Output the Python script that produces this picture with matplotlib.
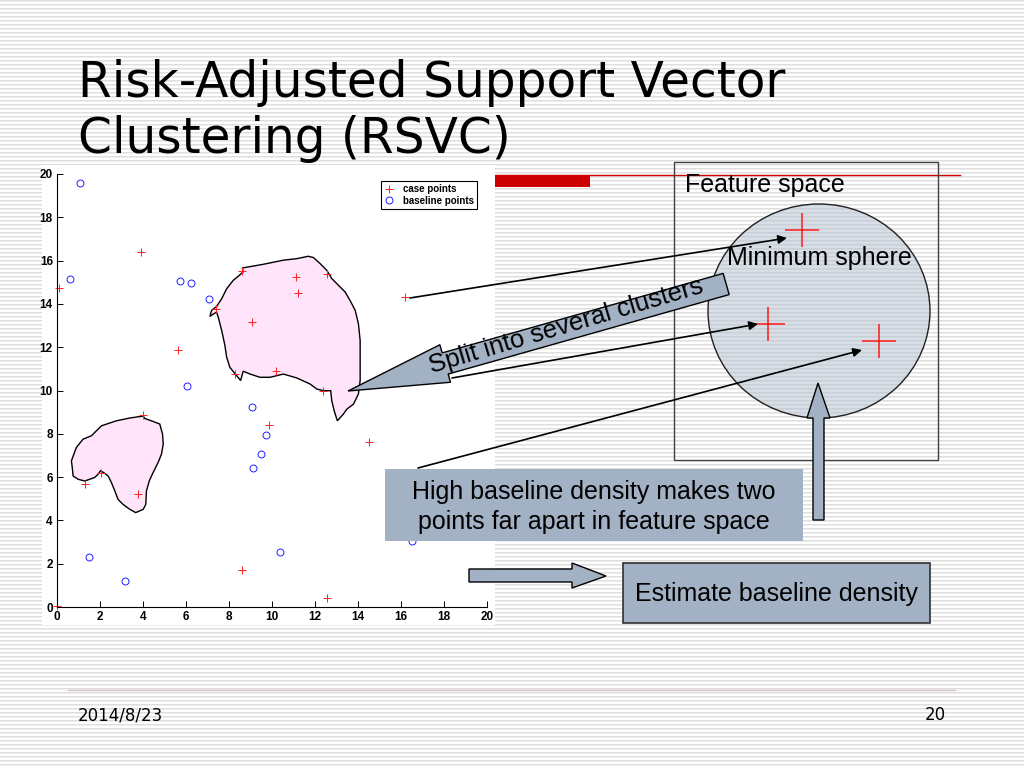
import numpy as np
import matplotlib.pyplot as plt
from matplotlib.patches import Polygon, Rectangle, Ellipse

# -------------------------
# Inset scatter data (data units, 0..20)
# -------------------------
case_x = [0.1, 3.9, 5.65, 8.6, 7.4, 9.05, 11.13, 11.23, 12.55, 16.2, 8.3,
          10.2, 12.35, 9.85, 14.5, 4.0, 1.3, 2.05, 3.77, 8.6, 12.55, 0.0]
case_y = [14.75, 16.4, 11.88, 15.5, 13.75, 13.15, 15.25, 14.52, 15.4, 14.32, 10.75,
          10.9, 10.0, 8.42, 7.62, 8.88, 5.7, 6.2, 5.2, 1.73, 0.4, 0.06]
base_x = [1.06, 0.59, 5.73, 6.21, 7.07, 6.04, 9.05, 9.7, 9.49, 9.1, 1.51, 3.17, 10.36, 16.5]
base_y = [19.57, 15.13, 15.04, 14.97, 14.22, 10.19, 9.25, 7.94, 7.09, 6.44, 2.33, 1.2, 2.55, 3.07]

# cluster boundaries
big_x = [8.62, 9.60, 10.53, 11.15, 11.69, 11.93, 12.24, 12.55, 12.78, 13.09, 13.40, 13.63,
         13.87, 14.02, 14.10, 14.10, 14.10, 14.02, 13.79, 13.48, 13.32, 13.04, 12.89, 12.78,
         12.73, 12.39, 12.08, 11.77, 11.15, 10.53, 9.91, 9.44, 8.98, 8.66, 8.54, 8.35, 8.04,
         7.89, 7.81, 7.66, 7.50, 7.42, 7.24, 7.11, 7.19, 7.42, 7.66, 7.89, 8.20, 8.48, 8.66]
big_y = [15.66, 15.83, 16.02, 16.09, 16.20, 16.14, 15.86, 15.55, 15.17, 14.86, 14.55, 14.16,
         13.70, 13.08, 12.31, 11.38, 10.46, 9.84, 9.37, 9.14, 8.91, 8.60, 9.07, 9.53,
         9.99, 9.99, 10.07, 10.30, 10.58, 10.76, 10.61, 10.61, 10.76, 10.89, 10.46, 10.69, 11.07,
         11.54, 12.08, 12.77, 13.39, 13.62, 13.51, 13.42, 13.70, 13.88, 14.24, 14.70, 15.09, 15.32, 15.48]
small_x = [0.67, 0.90, 1.21, 1.60, 2.07, 2.76, 3.39, 4.01, 4.08, 4.47, 4.78, 4.91, 4.94, 4.86,
           4.70, 4.47, 4.29, 4.16, 4.13, 4.01, 3.66, 3.39, 3.07, 2.84, 2.69, 2.53, 2.38, 2.17,
           2.02, 1.91, 1.75, 1.52, 1.29, 0.98, 0.75, 0.71]
small_y = [6.75, 7.37, 7.75, 7.91, 8.37, 8.60, 8.73, 8.82, 8.71, 8.57, 8.45, 7.98, 7.52, 7.06,
           6.67, 6.21, 5.82, 5.36, 4.74, 4.51, 4.36, 4.51, 4.74, 4.97, 5.36, 5.75, 6.05, 6.21,
           6.29, 6.13, 5.98, 5.90, 5.82, 5.90, 6.05, 6.44]

# feature space diagram (slide pixels)
fs_cross_x = [802, 768, 879]
fs_cross_y = [230, 324, 341]
arrow_from = [(410, 298), (452, 378), (418, 468)]
arrow_to = [(787, 238), (758, 324), (862, 350)]

BOX = '#a3b1c4'

fig = plt.figure(figsize=(10.24, 7.68), dpi=100)

# background: striped slide
bg = fig.add_axes([0, 0, 1, 1])
stripe = np.tile([0.87, 0.93, 1.0, 1.0], 192).reshape(-1, 1)
bg.imshow(stripe, cmap='gray', vmin=0, vmax=1, extent=(0, 1024, 768, 0),
          aspect='auto', interpolation='nearest')
bg.set_xlim(0, 1024)
bg.set_ylim(768, 0)
bg.axis('off')
bg.plot([60, 960], [175, 175], color='#cc0000', lw=1)
bg.add_patch(Rectangle((60, 175), 530, 12, facecolor='#cc0000', edgecolor='none'))
bg.add_patch(Rectangle((42, 165), 453, 460, facecolor='white', edgecolor='none', zorder=3))
bg.plot([68, 955], [690, 690], color='#d6c4c4', lw=1)
bg.text(78, 97, 'Risk-Adjusted Support Vector', fontsize=35, family='DejaVu Sans',
        va='baseline', ha='left', zorder=5)
bg.text(78, 153, 'Clustering (RSVC)', fontsize=35, family='DejaVu Sans',
        va='baseline', ha='left', zorder=5)
bg.text(78, 715, '2014/8/23', fontsize=12, va='center', ha='left')
bg.text(946, 715, '20', fontsize=12, va='center', ha='right')

# -------------------------
# Inset scatter plot
# -------------------------
ax = fig.add_axes([57 / 1024, 1 - 607 / 768, 430 / 1024, 433 / 768])
ax.set_facecolor('white')
ax.add_patch(Polygon(np.column_stack([big_x, big_y]), closed=True,
                     facecolor='#ffe4fa', edgecolor='black', lw=1))
ax.add_patch(Polygon(np.column_stack([small_x, small_y]), closed=True,
                     facecolor='#ffe4fa', edgecolor='black', lw=1))
ax.plot(case_x, case_y, '+', color='#ff2020', ms=6, mew=0.7, ls='none',
        label='case points', clip_on=False)
ax.plot(base_x, base_y, 'o', mfc='none', mec='#2020ff', ms=5, mew=0.7, ls='none',
        label='baseline points', clip_on=False)
ax.set_xlim(0, 20)
ax.set_ylim(0, 20)
ax.set_xticks(range(0, 21, 2))
ax.set_yticks(range(0, 21, 2))
for s in ['top', 'right']:
    ax.spines[s].set_visible(False)
for s in ['left', 'bottom']:
    ax.spines[s].set_linewidth(0.8)
ax.tick_params(direction='in', length=4, width=0.7, labelsize=8.5, pad=3)
for lab in ax.get_xticklabels() + ax.get_yticklabels():
    lab.set_fontweight('bold')
    lab.set_family('Liberation Sans')
leg = ax.legend(loc='upper right', bbox_to_anchor=(0.988, 0.995), fontsize=7,
                frameon=True, fancybox=False, framealpha=1, edgecolor='black',
                borderpad=0.3, handlelength=1.2, handletextpad=0.8, labelspacing=0.2,
                prop={'family': 'Liberation Sans', 'weight': 'bold', 'size': 7})
leg.get_frame().set_linewidth(0.8)

# -------------------------
# Overlay: feature space diagram and callouts
# -------------------------
ov = fig.add_axes([0, 0, 1, 1])
ov.set_xlim(0, 1024)
ov.set_ylim(768, 0)
ov.axis('off')
ov.patch.set_alpha(0)

ov.add_patch(Rectangle((674, 162), 264, 298, facecolor='none', edgecolor='#404040', lw=1))
ov.add_patch(Ellipse((819, 311), 222, 214, facecolor='#b9c3d2', alpha=0.55, edgecolor='none'))
ov.add_patch(Ellipse((819, 311), 222, 214, facecolor='none', edgecolor='#202020', lw=1))
ov.plot(fs_cross_x, fs_cross_y, '+', color='#ff1a1a', ms=25, mew=1.1, ls='none')
ov.text(685, 192, 'Feature space', fontsize=18, family='Liberation Sans', va='baseline')
ov.text(819, 265, 'Minimum sphere', fontsize=18, family='Liberation Sans',
        va='baseline', ha='center')

# block callout "Split into several clusters"
tip = np.array([348.0, 391.0])
ang = np.deg2rad(15.8)
u = np.array([np.cos(ang), -np.sin(ang)])
n = np.array([np.sin(ang), np.cos(ang)])
head_len, head_w, shaft_w, shaft_len = 101, 39, 22, 292
loc = [(0, 0), (head_len, -head_w / 2), (head_len, -shaft_w / 2),
       (head_len + shaft_len, -shaft_w / 2), (head_len + shaft_len, shaft_w / 2),
       (head_len, shaft_w / 2), (head_len, head_w / 2)]
pts = [tip + a * u + b * n for a, b in loc]
ov.add_patch(Polygon(pts, closed=True, facecolor=BOX, edgecolor='black', lw=1))
ov.text(568, 333, 'Split into several clusters', fontsize=18.5, family='Liberation Sans',
        rotation=16.5, rotation_mode='anchor', ha='center', va='baseline')

for (x0, y0), (x1, y1) in zip(arrow_from, arrow_to):
    ov.annotate('', xy=(x1, y1), xytext=(x0, y0),
                arrowprops=dict(arrowstyle='-|>', color='black', lw=1.2,
                                mutation_scale=13, shrinkA=0, shrinkB=0))

# vertical block arrow
ov.add_patch(Polygon([(818, 383), (830, 418), (824, 418), (824, 520), (813, 520),
                      (813, 418), (807, 418)], closed=True,
                     facecolor=BOX, edgecolor='black', lw=1))
# horizontal block arrow
ov.add_patch(Polygon([(469, 569), (572, 569), (572, 563), (606, 576), (572, 588),
                      (572, 582), (469, 582)], closed=True,
                     facecolor=BOX, edgecolor='black', lw=1))

ov.add_patch(Rectangle((385, 469), 418, 72, facecolor=BOX, edgecolor='none'))
ov.text(594, 492, 'High baseline density makes two', fontsize=18,
        family='Liberation Sans', ha='center', va='center')
ov.text(594, 522, 'points far apart in feature space', fontsize=18,
        family='Liberation Sans', ha='center', va='center')

ov.add_patch(Rectangle((623, 563), 307, 60, facecolor=BOX, edgecolor='#303030', lw=1.2))
ov.text(776, 594, 'Estimate baseline density', fontsize=18,
        family='Liberation Sans', ha='center', va='center')

fig.savefig('out.png', dpi=100)
